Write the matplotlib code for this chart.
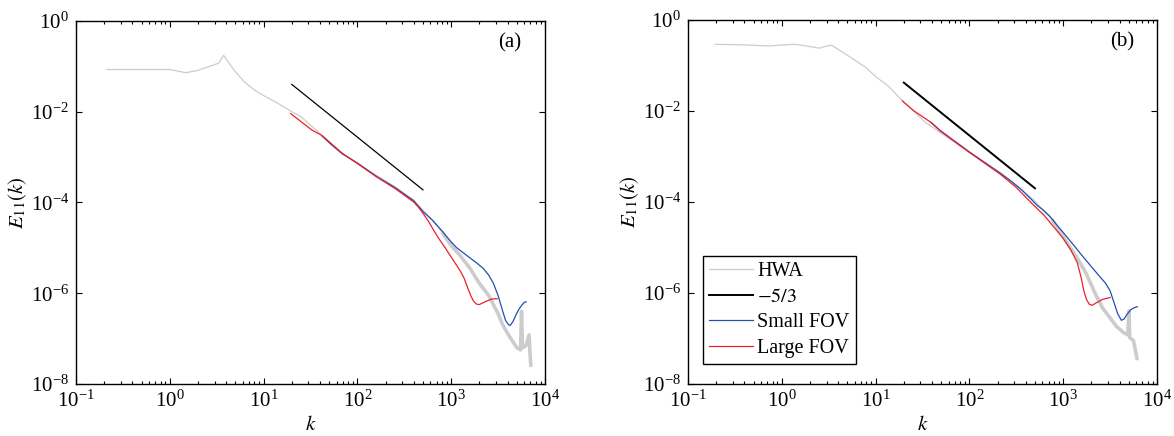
import numpy as np
import matplotlib.pyplot as plt
from matplotlib.ticker import FixedLocator, NullLocator, LogLocator

plt.rcParams['font.family'] = ['Liberation Serif', 'DejaVu Serif']
plt.rcParams['mathtext.fontset'] = 'stix'

# values, stored as log10(k), log10(E11)
# panel (a)
hwa_a_logk = [-0.67, -0.3, 0.0, 0.17, 0.30, 0.41, 0.52, 0.574, 0.635, 0.70, 0.795, 0.90, 0.996, 1.157,
              1.277, 1.40, 1.60, 1.80, 2.0, 2.2, 2.4, 2.6, 2.8, 2.9, 3.0, 3.1, 3.2, 3.3, 3.4, 3.5,
              3.55, 3.62, 3.70, 3.74, 3.75, 3.76, 3.80, 3.83, 3.84, 3.85]
hwa_a_logE = [-1.07, -1.07, -1.07, -1.14, -1.09, -1.01, -0.93, -0.756, -0.94, -1.12, -1.34, -1.52, -1.64,
              -1.82, -1.97, -2.11, -2.48, -2.85, -3.14, -3.40, -3.65, -3.95, -4.39, -4.65, -4.95, -5.18,
              -5.45, -5.78, -6.05, -6.45, -6.70, -6.95, -7.20, -7.25, -6.40, -7.2, -7.15, -6.92, -7.3, -7.62]
small_a_logk = [1.62, 1.72, 1.84, 2.0, 2.2, 2.4, 2.6, 2.7, 2.8, 2.9, 3.0, 3.06, 3.13, 3.20, 3.27, 3.34,
                3.40, 3.45, 3.50, 3.55, 3.58, 3.61, 3.63, 3.66, 3.69, 3.72, 3.75, 3.78, 3.80]
small_a_logE = [-2.53, -2.72, -2.93, -3.13, -3.42, -3.67, -3.96, -4.20, -4.39, -4.62, -4.87, -5.00, -5.11,
                -5.22, -5.33, -5.45, -5.60, -5.78, -6.05, -6.40, -6.60, -6.69, -6.71, -6.62, -6.48, -6.36,
                -6.27, -6.20, -6.19]
large_a_logk = [1.289, 1.40, 1.52, 1.62, 1.72, 1.84, 2.0, 2.2, 2.4, 2.6, 2.65, 2.7, 2.76, 2.81, 2.87,
                2.93, 2.99, 3.05, 3.10, 3.14, 3.18, 3.21, 3.24, 3.27, 3.30, 3.33, 3.37, 3.43, 3.49]
large_a_logE = [-2.04, -2.22, -2.41, -2.52, -2.70, -2.92, -3.14, -3.43, -3.69, -3.99, -4.10, -4.24, -4.42,
                -4.60, -4.80, -4.98, -5.17, -5.36, -5.52, -5.68, -5.90, -6.06, -6.18, -6.24, -6.25, -6.22,
                -6.18, -6.13, -6.12]
slope_a_k = [20, 500]
slope_a_E = [0.040, 1.9e-4]

# panel (b)
hwa_b_logk = [-0.71, -0.373, -0.135, 0.004, 0.143, 0.262, 0.40, 0.48, 0.53, 0.60, 0.738, 0.897, 1.016,
              1.135, 1.254, 1.29, 1.53, 2.0, 2.33, 2.68, 2.88, 3.04, 3.14, 3.24, 3.29, 3.35, 3.42, 3.50,
              3.57, 3.65, 3.69, 3.70, 3.71, 3.75, 3.79]
hwa_b_logE = [-0.534, -0.55, -0.571, -0.55, -0.534, -0.571, -0.62, -0.571, -0.556, -0.644, -0.827, -1.047,
              -1.27, -1.45, -1.705, -1.78, -2.25, -2.91, -3.35, -3.94, -4.38, -4.89, -5.20, -5.55, -5.78,
              -6.05, -6.33, -6.55, -6.74, -6.88, -6.92, -6.40, -6.98, -7.05, -7.47]
small_b_logk = [1.59, 1.69, 2.0, 2.33, 2.45, 2.55, 2.65, 2.72, 2.80, 2.86, 2.93, 3.0, 3.1, 3.21, 3.30,
                3.39, 3.45, 3.50, 3.54, 3.58, 3.62, 3.65, 3.68, 3.72, 3.75, 3.79]
small_b_logE = [-2.25, -2.43, -2.90, -3.37, -3.55, -3.72, -3.92, -4.07, -4.20, -4.32, -4.50, -4.67, -4.92,
                -5.20, -5.42, -5.64, -5.78, -5.95, -6.20, -6.45, -6.60, -6.57, -6.47, -6.37, -6.33, -6.30]
large_b_logk = [1.286, 1.41, 1.59, 1.69, 2.0, 2.33, 2.5, 2.68, 2.80, 2.92, 3.0, 3.08, 3.15, 3.19, 3.22,
                3.25, 3.28, 3.31, 3.35, 3.42, 3.50]
large_b_logE = [-1.78, -2.0, -2.25, -2.44, -2.91, -3.39, -3.68, -4.06, -4.30, -4.60, -4.80, -5.05, -5.33,
                -5.65, -5.95, -6.15, -6.25, -6.27, -6.22, -6.14, -6.10]
slope_b_k = [20, 500]
slope_b_E = [0.042, 2.0e-4]

gray = '#cccccc'
blue = '#2150b0'
red = '#ec2028'

fig = plt.figure(figsize=(11.74, 4.36), dpi=100)
axa = fig.add_axes([0.0647, 0.1193, 0.3995, 0.8326])
axb = fig.add_axes([0.586, 0.1193, 0.3995, 0.8349])


def draw(ax, hk, hE, sk, sE, lk, lE, ck, cE, tag, slope_lw):
    hk = 10 ** np.array(hk)
    hE = 10 ** np.array(hE)
    ax.plot(hk, hE, color=gray, lw=0.9, label='HWA')
    tail = hk >= 10 ** 2.85
    ax.plot(hk[tail], hE[tail], color=gray, lw=2.6, solid_capstyle='butt')
    ax.plot(ck, cE, color='black', lw=slope_lw, label='$-5/3$')
    ax.plot(10 ** np.array(sk), 10 ** np.array(sE), color=blue, lw=0.9, label='Small FOV')
    ax.plot(10 ** np.array(lk), 10 ** np.array(lE), color=red, lw=0.9, label='Large FOV')
    ax.set_xscale('log')
    ax.set_yscale('log')
    ax.set_xlim(1e-1, 1e4)
    ax.set_ylim(1e-8, 1e0)
    ax.yaxis.set_major_locator(FixedLocator([1e-8, 1e-6, 1e-4, 1e-2, 1e0]))
    ax.yaxis.set_minor_locator(NullLocator())
    ax.xaxis.set_major_locator(LogLocator(base=10, numticks=10))
    ax.xaxis.set_minor_locator(LogLocator(base=10, subs=np.arange(2, 10), numticks=20))
    ax.tick_params(which='both', direction='in', top=True, right=True, labelsize=15, pad=5, width=0.8)
    ax.tick_params(which='major', length=4)
    ax.tick_params(which='minor', length=2.5)
    for s in ax.spines.values():
        s.set_linewidth(1.0)
    ax.set_xlabel('$k$', fontsize=15, labelpad=3)
    ax.set_ylabel('$E_{11}(k)$', fontsize=15, labelpad=1)
    ax.text(0.925, 0.94, tag, transform=ax.transAxes, fontsize=15, ha='center', va='center')


draw(axa, hwa_a_logk, hwa_a_logE, small_a_logk, small_a_logE, large_a_logk, large_a_logE,
     slope_a_k, slope_a_E, '(a)', 0.9)
draw(axb, hwa_b_logk, hwa_b_logE, small_b_logk, small_b_logE, large_b_logk, large_b_logE,
     slope_b_k, slope_b_E, '(b)', 1.4)

handles, labels = axb.get_legend_handles_labels()
leg = axb.legend(handles, labels, loc='lower left', bbox_to_anchor=(0.032, 0.055), fontsize=14.5,
                 frameon=True, fancybox=False, edgecolor='black', framealpha=1, borderpad=0.3,
                 labelspacing=0.32, handlelength=2.2, handletextpad=0.2, borderaxespad=0)
leg.get_frame().set_linewidth(1.0)

fig.savefig('out.png', dpi=100)
